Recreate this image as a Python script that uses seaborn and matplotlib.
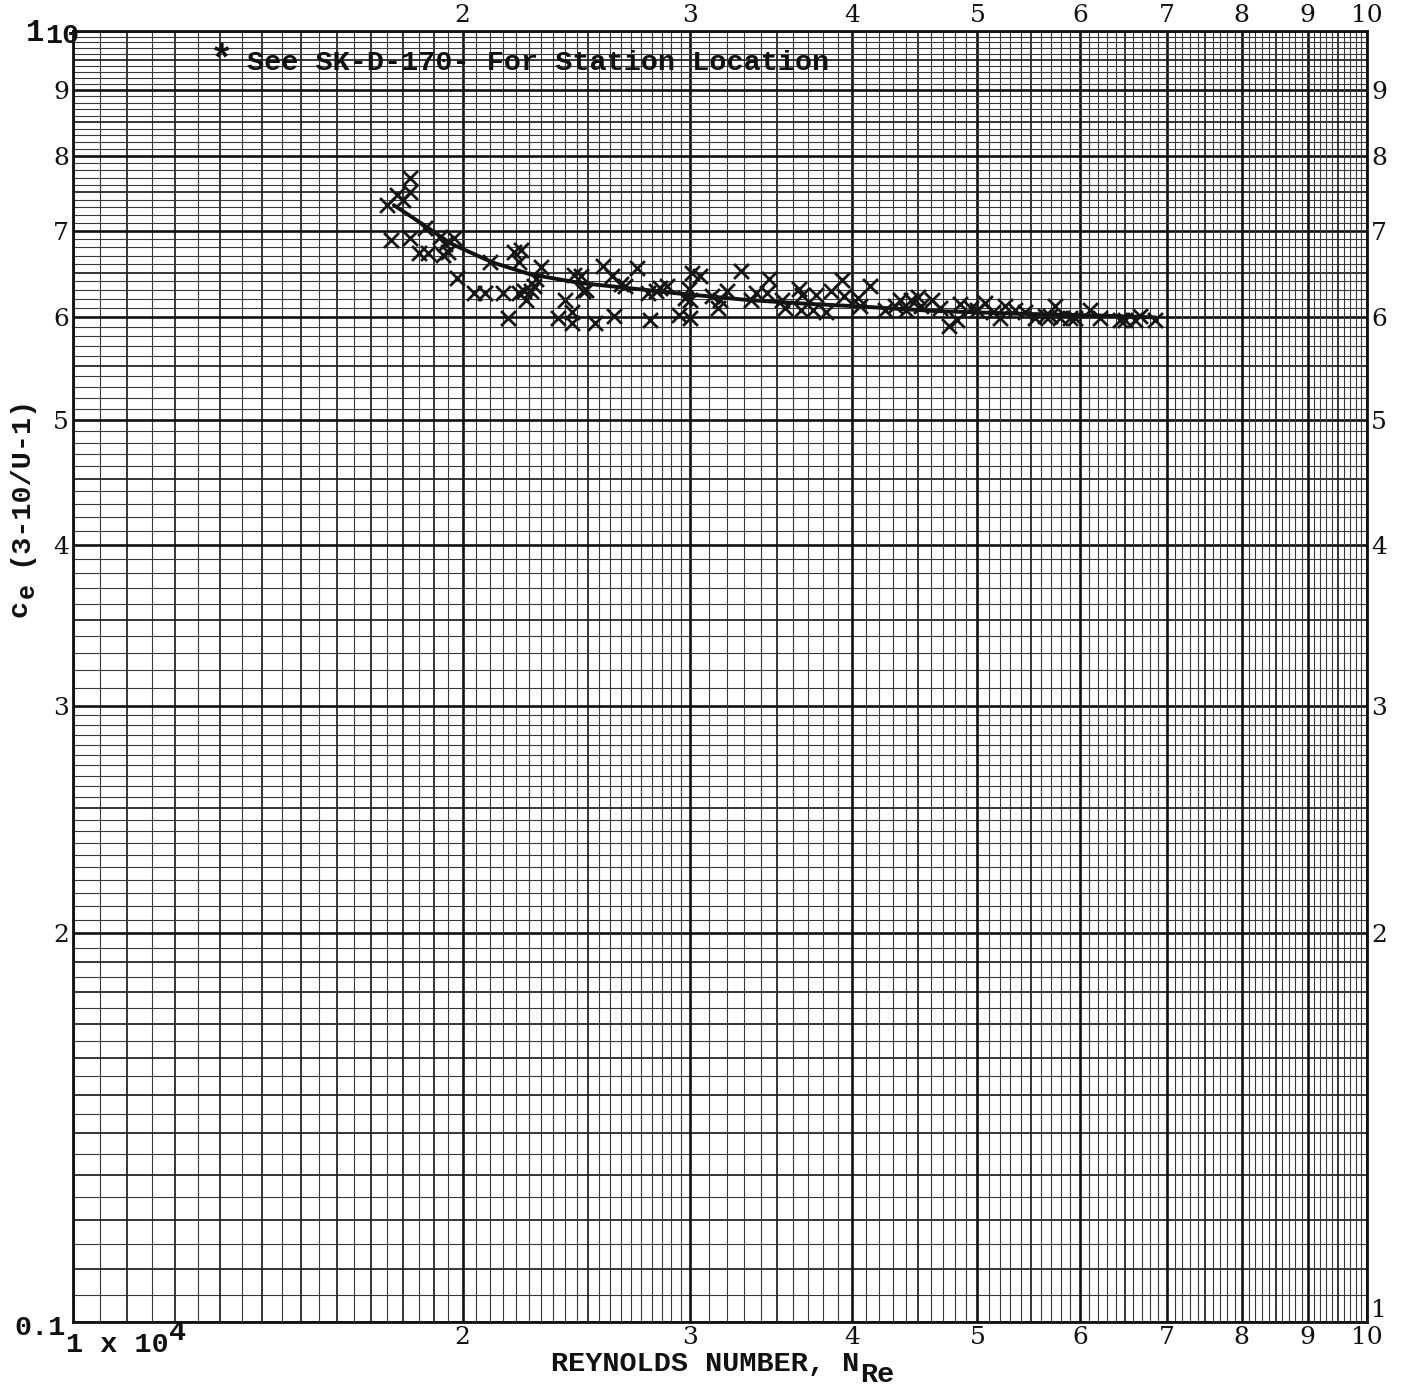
import numpy as np
import pandas as pd
import matplotlib
matplotlib.use("Agg")
import matplotlib.pyplot as plt
import seaborn as sns

# ---- data (Reynolds number in units of 1e4, Ce) ----
re_x = [1.75, 1.78, 1.80, 1.82, 1.82, 1.76, 1.82, 1.85, 1.88, 1.87, 1.92, 1.94, 1.95, 1.97, 1.93,
        1.98, 2.04, 2.08, 2.15, 2.10, 2.17, 2.19, 2.22, 2.21, 2.21, 2.23, 2.24, 2.26, 2.27, 2.28,
        2.30, 2.37, 2.40, 2.43, 2.43, 2.44, 2.48, 2.47, 2.49, 2.53, 2.57, 2.61, 2.62, 2.65, 2.67,
        2.73, 2.79, 2.78, 2.82, 2.84, 2.88, 2.94, 2.97, 2.99, 3.00, 3.00, 3.01, 3.05, 3.12, 3.16,
        3.15, 3.20, 3.28, 3.34, 3.37, 3.44, 3.45, 3.53, 3.55, 3.64, 3.65, 3.66, 3.73, 3.75, 3.82,
        3.85, 3.94, 3.93, 4.06, 4.13, 4.04, 4.24, 4.32, 4.36, 4.40, 4.44, 4.50, 4.52, 4.61, 4.68,
        4.75, 4.82, 4.85, 4.94, 5.00, 5.07, 5.14, 5.20, 5.25, 5.35, 5.44, 5.54, 5.64, 5.69, 5.74,
        5.79, 5.90, 5.95, 6.11, 6.22, 6.44, 6.50, 6.62, 6.68, 6.86]
ce_y = [7.33, 7.47, 7.40, 7.69, 7.50, 6.89, 6.91, 6.73, 6.73, 7.04, 6.92, 6.84, 6.74, 6.91, 6.71,
        6.44, 6.27, 6.27, 6.27, 6.62, 5.99, 6.74, 6.77, 6.62, 6.27, 6.29, 6.19, 6.29, 6.35, 6.43,
        6.56, 5.99, 6.19, 6.06, 5.94, 6.47, 6.29, 6.46, 6.30, 5.94, 6.58, 6.46, 6.01, 6.37, 6.35,
        6.55, 5.97, 6.27, 6.29, 6.32, 6.35, 6.03, 6.21, 6.31, 6.19, 5.99, 6.50, 6.46, 6.23, 6.19,
        6.10, 6.29, 6.52, 6.19, 6.27, 6.27, 6.43, 6.19, 6.10, 6.31, 6.08, 6.24, 6.08, 6.24, 6.06,
        6.29, 6.23, 6.41, 6.12, 6.35, 6.21, 6.08, 6.12, 6.19, 6.08, 6.19, 6.22, 6.12, 6.19, 6.10,
        5.91, 5.97, 6.15, 6.10, 6.08, 6.16, 6.06, 5.99, 6.12, 6.08, 6.06, 5.99, 6.01, 6.02, 6.12,
        5.99, 5.99, 5.99, 6.08, 5.99, 5.97, 5.97, 5.97, 6.02, 5.97]

curve_x = [1.77, 1.865, 1.956, 2.108, 2.255, 2.465, 2.695, 2.945, 3.319, 3.666, 4.035, 4.619,
           5.364, 6.22, 6.86]
curve_y = [7.33, 7.08, 6.85, 6.62, 6.48, 6.38, 6.32, 6.26, 6.19, 6.15, 6.12, 6.07, 6.04, 6.02, 6.00]

x_tick_vals = [2, 3, 4, 5, 6, 7, 8, 9, 10]
x_tick_labels = ["2", "3", "4", "5", "6", "7", "8", "9", "10"]
yl_tick_vals = [2, 3, 4, 5, 6, 7, 8, 9]
yl_tick_labels = ["2", "3", "4", "5", "6", "7", "8", "9"]
yr_tick_vals = [1, 2, 3, 4, 5, 6, 7, 8, 9]
yr_tick_labels = ["1", "2", "3", "4", "5", "6", "7", "8", "9"]

pts = pd.DataFrame({"Re": re_x, "Ce": ce_y})
crv = pd.DataFrame({"Re": curve_x, "Ce": curve_y})

sns.set_style("white")
plt.rcParams["font.family"] = ["DejaVu Serif"]

W, H = 1402, 1388
fig = plt.figure(figsize=(W / 100, H / 100), dpi=100)
L, R, T, B = 73, 1367, 31, 1322
ax = fig.add_axes([L / W, 1 - B / H, (R - L) / W, (B - T) / H])
ax.set_xscale("log")
ax.set_yscale("log")
ax.set_xlim(1, 10)
ax.set_ylim(1, 10)

# ---- graph-paper rulings ----
grid_vals = np.round(np.r_[np.arange(1.0, 3.0, 0.05), np.arange(3.0, 10.001, 0.1)], 3)

def style(v):
    if abs(v - round(v)) < 1e-6:
        return 1.9, "#111111"
    if v < 2 and abs(v * 10 - round(v * 10)) < 1e-6:
        return 1.25, "#1e1e1e"
    if abs(v * 2 - round(v * 2)) < 1e-6:
        return 1.25, "#1e1e1e"
    return 0.8, "#383838"

for v in grid_vals:
    lw, c = style(v)
    ax.axvline(v, lw=lw, color=c, zorder=0.5)
    ax.axhline(v, lw=lw, color=c, zorder=0.5)

for s in ax.spines.values():
    s.set_linewidth(2.0)
    s.set_color("#111111")

# ---- data ----
sns.lineplot(data=crv, x="Re", y="Ce", ax=ax, color="#111111", lw=2.8, sort=True, zorder=3)
sns.scatterplot(data=pts, x="Re", y="Ce", ax=ax, marker="x", s=115, color="#151515",
                linewidth=2.0, zorder=4)

ax.set_xlabel("")
ax.set_ylabel("")

# ---- tick labels (printed on the paper) ----
ax.minorticks_off()
ax.set_xticks(x_tick_vals)
ax.set_xticklabels(x_tick_labels)
ax.set_yticks(yl_tick_vals)
ax.set_yticklabels(yl_tick_labels)
ax.xaxis.set_minor_locator(matplotlib.ticker.NullLocator())
ax.yaxis.set_minor_locator(matplotlib.ticker.NullLocator())
ax.tick_params(axis="x", length=0, labeltop=True, labelbottom=True, labelsize=18, pad=3,
               colors="#111111")
ax.tick_params(axis="y", length=0, labelsize=18, pad=3, colors="#111111")

sec = ax.secondary_yaxis("right")
sec.set_yticks(yr_tick_vals)
sec.set_yticklabels(yr_tick_labels)
sec.yaxis.set_minor_locator(matplotlib.ticker.NullLocator())
sec.tick_params(length=0, labelsize=18, pad=3, colors="#111111")
sec.spines["right"].set_visible(False)
for lab in sec.get_yticklabels():
    if lab.get_text() == "1":
        lab.set_verticalalignment("bottom")

# ---- typed annotations ----
mono = ["Liberation Mono", "DejaVu Sans Mono"]

def ftext(x, y, s, **kw):
    fig.text(x / W, 1 - y / H, s, family=mono, color="#111111", **kw)

ftext(221, 60, "*", fontsize=28, fontweight="bold", ha="center", va="center")
ftext(247, 63, "See SK-D-170- For Station Location", fontsize=20.5, fontweight="bold",
      ha="left", va="center")
ftext(551, 1364, "REYNOLDS NUMBER, N", fontsize=20.5, fontweight="bold", ha="left", va="center")
ftext(860, 1375, "Re", fontsize=20.5, fontweight="bold", ha="left", va="center")
ftext(14, 1328, "0.1", fontsize=20.5, fontweight="bold", ha="left", va="center")
ftext(66, 1345, "1 x 10", fontsize=20.5, fontweight="bold", ha="left", va="center")
ftext(169, 1333, "4", fontsize=20.5, fontweight="bold", ha="left", va="center")
ftext(26, 33, "1", fontsize=22, fontweight="bold", ha="left", va="center")
ftext(45, 36, "10", fontsize=20.5, fontweight="bold", ha="left", va="center")
# vertical axis title
ftext(19, 608, "c", fontsize=20.5, fontweight="bold", rotation=90, ha="center", va="center")
ftext(27, 591, "e", fontsize=18, fontweight="bold", rotation=90, ha="center", va="center")
ftext(19, 480, "(3-10/U-1)", fontsize=20.5, fontweight="bold", rotation=90,
      ha="center", va="center")

fig.savefig("out.png", dpi=100, facecolor="white")
